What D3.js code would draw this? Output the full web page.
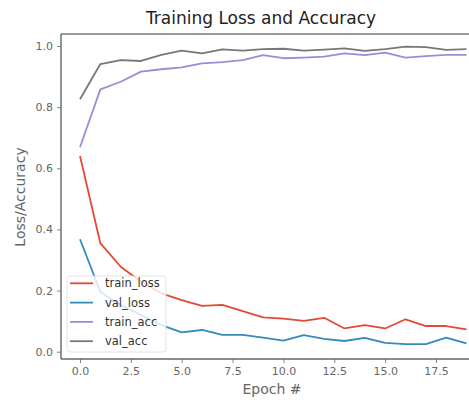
<!DOCTYPE html>
<html>
<head>
<meta charset="utf-8">
<script src="https://cdn.jsdelivr.net/npm/d3@7/dist/d3.min.js"></script>
<style>
  body { margin: 0; background: #fff; }
  svg { display: block; font-family: "DejaVu Sans", sans-serif; }
</style>
</head>
<body>
<div id="chart"></div>
<script>
// values, one per epoch
var epochs = d3.range(0, 20);
var trainLoss = [0.640, 0.355, 0.278, 0.229, 0.191, 0.169, 0.150, 0.153, 0.133, 0.112,
                 0.108, 0.101, 0.111, 0.076, 0.087, 0.076, 0.106, 0.084, 0.084, 0.073];
var valLoss   = [0.368, 0.196, 0.153, 0.120, 0.087, 0.063, 0.071, 0.055, 0.055, 0.046,
                 0.036, 0.054, 0.042, 0.035, 0.045, 0.029, 0.025, 0.025, 0.046, 0.027];
var trainAcc  = [0.669, 0.858, 0.883, 0.916, 0.924, 0.930, 0.943, 0.947, 0.954, 0.970,
                 0.960, 0.962, 0.965, 0.976, 0.970, 0.978, 0.962, 0.967, 0.971, 0.971];
var valAcc    = [0.826, 0.941, 0.954, 0.951, 0.971, 0.985, 0.976, 0.989, 0.985, 0.990,
                 0.991, 0.985, 0.988, 0.992, 0.984, 0.990, 0.998, 0.996, 0.987, 0.990];
var seriesNames = ["train_loss", "val_loss", "train_acc", "val_acc"];
var xTicks = [0, 2.5, 5, 7.5, 10, 12.5, 15, 17.5];
var yTicks = [0, 0.2, 0.4, 0.6, 0.8, 1.0];

var W = 469, H = 402;
var frame = {left: 61, right: 486, top: 34, bottom: 359};
var colors = ["#E24A33", "#348ABD", "#988ED5", "#777777"];

var svg = d3.select("#chart").append("svg").attr("width", W).attr("height", H);

var x = d3.scaleLinear().domain([0, 17.5]).range([80, 436]);
var y = d3.scaleLinear().domain([0, 1]).range([351.7, 46]);

svg.append("defs").append("clipPath").attr("id", "plotclip")
  .append("rect").attr("x", frame.left).attr("y", frame.top)
  .attr("width", frame.right - frame.left).attr("height", frame.bottom - frame.top);

// lines
var series = [trainLoss, valLoss, trainAcc, valAcc];
var line = d3.line().x(function(d, i){ return x(epochs[i]); }).y(function(d){ return y(d); });
var g = svg.append("g").attr("clip-path", "url(#plotclip)");
series.forEach(function(s, k){
  g.append("path").datum(s).attr("d", line)
    .attr("fill", "none").attr("stroke", colors[k]).attr("stroke-width", 1.8)
    .attr("stroke-linejoin", "round");
});

// axes
var xAxis = d3.axisBottom(x).tickValues(xTicks).tickSize(4).tickPadding(4)
  .tickFormat(d3.format(".1f"));
var yAxis = d3.axisLeft(y).tickValues(yTicks).tickSize(4).tickPadding(4)
  .tickFormat(d3.format(".1f"));

var gx = svg.append("g").attr("transform", "translate(0," + frame.bottom + ")").call(xAxis);
var gy = svg.append("g").attr("transform", "translate(" + frame.left + ",0)").call(yAxis);
[gx, gy].forEach(function(a){
  a.select(".domain").remove();
  a.selectAll(".tick line").attr("stroke", "#777").attr("stroke-width", 0.9);
  a.selectAll(".tick text").attr("fill", "#666").attr("font-size", 11)
    .attr("font-family", "DejaVu Sans");
});

// spines
svg.append("line").attr("x1", frame.left).attr("x2", frame.right)
  .attr("y1", frame.top).attr("y2", frame.top).attr("stroke", "#777").attr("stroke-width", 1.4);
svg.append("line").attr("x1", frame.left).attr("x2", frame.right)
  .attr("y1", frame.bottom).attr("y2", frame.bottom).attr("stroke", "#666").attr("stroke-width", 1.4);
svg.append("line").attr("x1", frame.left).attr("x2", frame.left)
  .attr("y1", frame.top).attr("y2", frame.bottom).attr("stroke", "#666").attr("stroke-width", 1.4);
svg.append("line").attr("x1", frame.right).attr("x2", frame.right)
  .attr("y1", frame.top).attr("y2", frame.bottom).attr("stroke", "#666").attr("stroke-width", 1.4);

// labels
svg.append("text").attr("x", 261).attr("y", 24).attr("text-anchor", "middle")
  .attr("font-size", 17).attr("fill", "#222").text("Training Loss and Accuracy");
svg.append("text").attr("x", 272).attr("y", 394).attr("text-anchor", "middle")
  .attr("font-size", 14).attr("fill", "#666").text("Epoch #");
svg.append("text").attr("transform", "translate(25,197)rotate(-90)").attr("text-anchor", "middle")
  .attr("font-size", 14).attr("fill", "#666").text("Loss/Accuracy");

// legend
var lg = svg.append("g").attr("transform", "translate(67,276)");
lg.append("rect").attr("width", 99).attr("height", 76).attr("rx", 3)
  .attr("fill", "#fff").attr("fill-opacity", 0.8).attr("stroke", "#ddd").attr("stroke-width", 0.8);
seriesNames.forEach(function(name, k){
  var row = lg.append("g").attr("transform", "translate(0," + (7.3 + k * 19.3) + ")");
  row.append("line").attr("x1", 3).attr("x2", 26).attr("y1", 0).attr("y2", 0)
    .attr("stroke", colors[k]).attr("stroke-width", 1.8);
  row.append("text").attr("x", 38).attr("y", 4).attr("font-size", 11.5).attr("fill", "#333").text(name);
});
</script>
</body>
</html>
